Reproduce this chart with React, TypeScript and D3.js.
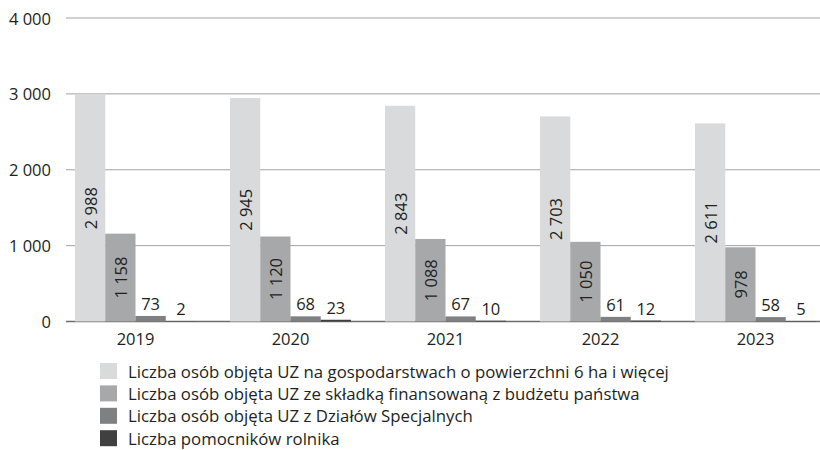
import * as d3 from "d3";

const years = ["2019", "2020", "2021", "2022", "2023"];
const seriesNames = [
  "Liczba osób objęta UZ na gospodarstwach o powierzchni 6 ha i więcej",
  "Liczba osób objęta UZ ze składką finansowaną z budżetu państwa",
  "Liczba osób objęta UZ z Działów Specjalnych",
  "Liczba pomocników rolnika",
];
const farms6ha = [2988, 2945, 2843, 2703, 2611];
const budget = [1158, 1120, 1088, 1050, 978];
const special = [73, 68, 67, 61, 58];
const helpers = [2, 23, 10, 12, 5];
const yTicks = [0, 1000, 2000, 3000, 4000];

const colors = ["#d9dadb", "#a7a8aa", "#7f8082", "#404041"];
const font = "'Open Sans', sans-serif";

export default function App() {
  const width = 820;
  const height = 450;
  const series = [farms6ha, budget, special, helpers];
  const keys = series.map((_, i) => String(i));

  const y = d3.scaleLinear().domain([0, 4000]).range([321.5, 18]);
  const x0 = d3.scaleBand().domain(years).range([58, 833]);
  const x1 = d3.scaleBand().domain(keys).range([17, 138]);

  const fmt = d3.formatLocale({ decimal: ",", thousands: " ", grouping: [3], currency: ["", ""] }).format(",d");

  return (
    <svg width={width} height={height} style={{ position: "absolute", left: 0, top: 0, background: "#fff" }} fontFamily={font}>
      {/* grid + y labels */}
      {yTicks.map((t) => (
        <g key={t}>
          <line x1={66} x2={820} y1={y(t)} y2={y(t)} stroke={t === 0 ? "#6d6d6d" : "#a3a3a3"} strokeWidth={t === 0 ? 1.6 : 1} />
          <text x={51} y={y(t)} textAnchor="end" dominantBaseline="central" fontSize={16.5} fill="#231f20">
            {fmt(t)}
          </text>
        </g>
      ))}

      {/* bars */}
      {years.map((yr, yi) => (
        <g key={yr} transform={`translate(${x0(yr)},0)`}>
          {series.map((vals, si) => {
            const v = vals[yi];
            const bx = x1(String(si))!;
            const bw = x1.bandwidth();
            const top = y(v);
            const cx = bx + bw / 2;
            return (
              <g key={si}>
                <rect x={bx} y={top} width={bw} height={y(0) - top} fill={colors[si]} />
                {si < 2 ? (
                  <text
                    transform={`translate(${cx},${(top + y(0)) / 2}) rotate(-90)`}
                    textAnchor="middle"
                    dominantBaseline="central"
                    fontSize={16.5}
                    fill="#231f20"
                  >
                    {fmt(v)}
                  </text>
                ) : (
                  <text x={cx} y={top - 6} textAnchor="middle" fontSize={16.5} fill="#231f20">
                    {fmt(v)}
                  </text>
                )}
              </g>
            );
          })}
          <text x={x0.bandwidth() / 2} y={345} textAnchor="middle" fontSize={16.5} fill="#231f20">
            {yr}
          </text>
        </g>
      ))}

      {/* legend */}
      {seriesNames.map((name, i) => (
        <g key={name} transform={`translate(100,${363 + i * 22.4})`}>
          <rect width={17} height={16} fill={colors[i]} />
          <text x={28} y={8} dominantBaseline="central" fontSize={16.8} fill="#231f20">
            {name}
          </text>
        </g>
      ))}
    </svg>
  );
}
